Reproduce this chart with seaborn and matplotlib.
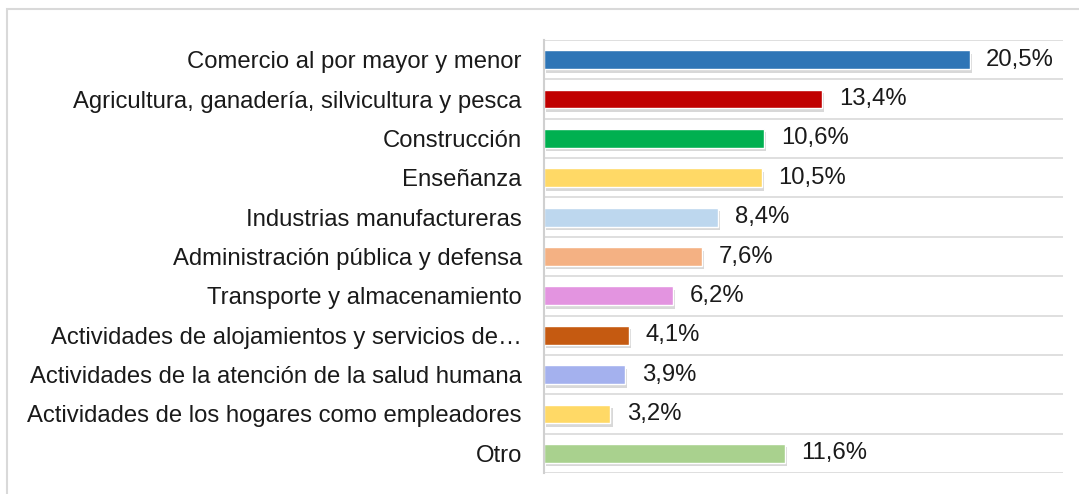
import matplotlib
matplotlib.use("Agg")
import matplotlib.pyplot as plt
import matplotlib.patheffects as pe
from matplotlib.patches import Rectangle
import seaborn as sns
import pandas as pd

categories = [
    "Comercio al por mayor y menor",
    "Agricultura, ganadería, silvicultura y pesca",
    "Construcción",
    "Enseñanza",
    "Industrias manufactureras",
    "Administración pública y defensa",
    "Transporte y almacenamiento",
    "Actividades de alojamientos y servicios de…",
    "Actividades de la atención de la salud humana",
    "Actividades de los hogares como empleadores",
    "Otro",
]
values = [20.5, 13.4, 10.6, 10.5, 8.4, 7.6, 6.2, 4.1, 3.9, 3.2, 11.6]
colors = ["#2E75B6", "#C00000", "#00B050", "#FFD966", "#BDD7EE", "#F4B183",
          "#E394E0", "#C55A11", "#A4B1EE", "#FFD966", "#A9D18E"]

df = pd.DataFrame({"cat": categories, "val": values})

sns.set_style("white")
plt.rcParams["font.family"] = ["Liberation Sans", "DejaVu Sans"]

fig = plt.figure(figsize=(10.79, 4.94), dpi=100)
ax = fig.add_axes([544 / 1079, 1 - 473 / 494, (1063 - 544) / 1079, (473 - 40) / 494])

sns.barplot(data=df, x="val", y="cat", hue="cat", palette=colors, legend=False,
            width=0.48, saturation=1, ax=ax, orient="h")

# soft drop shadow like the original
for p in ax.patches:
    p.set_path_effects([pe.SimplePatchShadow(offset=(1.5, -2.5), shadow_rgbFace="#7f7f7f", alpha=0.3),
                        pe.Normal()])

for i, v in enumerate(values):
    ax.text(v + 0.8, i, f"{v:.1f}%".replace(".", ","), va="center", ha="left",
            fontsize=17.2, color="#1a1a1a")

ax.set_xlim(0, 25)
ax.set_ylim(len(categories) - 0.5, -0.5)
ax.set_xlabel("")
ax.set_ylabel("")
ax.set_xticks([])
ax.tick_params(axis="y", length=0, labelsize=17.2, pad=16, colors="#1a1a1a")

for b in range(len(categories) + 1):
    ax.axhline(b - 0.5, color="#d9d9d9", lw=1.2, zorder=0)

for s in ["top", "right", "bottom"]:
    ax.spines[s].set_visible(False)
ax.spines["left"].set_color("#d0d0d0")
ax.spines["left"].set_linewidth(1.5)

fig.patches.append(Rectangle((7 / 1079, -0.1), 1.2, 1 - 9 / 494 + 0.1,
                             transform=fig.transFigure, fill=False,
                             edgecolor="#d9d9d9", lw=1.5))

fig.savefig("out.png", dpi=100)
